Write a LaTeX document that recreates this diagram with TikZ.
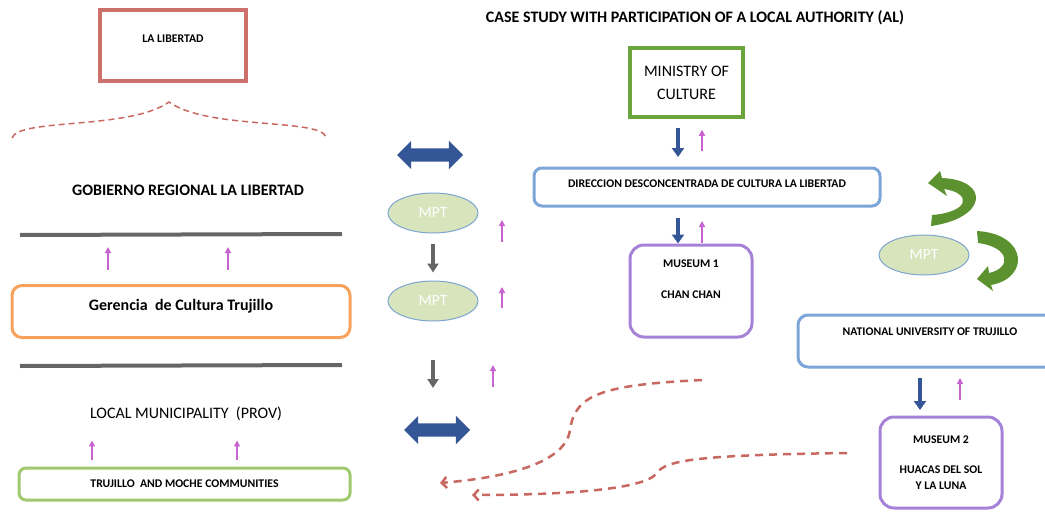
\documentclass[tikz,border=0pt]{standalone}
\usepackage{fontspec}
\setmainfont{Carlito}
\usetikzlibrary{arrows.meta,shapes.geometric,shapes.arrows,positioning}
\definecolor{libred}{RGB}{205,112,108}
\definecolor{dashred}{RGB}{200,104,96}
\definecolor{bargray}{RGB}{102,102,102}
\definecolor{upmag}{RGB}{200,100,210}
\definecolor{gerorange}{RGB}{247,162,92}
\definecolor{comgreen}{RGB}{160,200,110}
\definecolor{dirblue}{RGB}{125,165,215}
\definecolor{muspurple}{RGB}{165,130,215}
\definecolor{mingreen}{RGB}{105,165,60}
\definecolor{darkblue}{RGB}{52,86,150}
\definecolor{mptfill}{RGB}{215,228,188}
\definecolor{mptline}{RGB}{125,165,210}
\definecolor{turngreen}{RGB}{92,145,48}
\begin{document}
\begin{tikzpicture}[x=1pt, y=-1pt,
  smalltxt/.style={font=\fontsize{11.75}{14}\selectfont\bfseries},
  bigtxt/.style={font=\fontsize{16}{19}\selectfont\bfseries},
  plaintxt/.style={font=\fontsize{16}{19}\selectfont},
  mpt/.style={ellipse, draw=mptline, fill=mptfill, line width=1pt, minimum width=90pt, minimum height=40pt, text=white, font=\fontsize{15.5}{18}\selectfont},
  twoway/.style={double arrow, fill=darkblue, minimum height=66pt, inner sep=6.5pt, double arrow head extend=7.5pt},
  downarrow/.style={-{Triangle[width=12pt,length=9pt]}, line width=4.5pt, darkblue},
  graydown/.style={-{Triangle[width=11pt,length=9pt]}, line width=4pt, bargray},
  uparrow/.style={-{Triangle[width=6pt,length=6pt]}, line width=1.3pt, upmag},
  barline/.style={line width=4pt, bargray},
  backflow/.style={dashred, line width=2.5pt, dash pattern=on 8pt off 6pt, -{Straight Barb[length=5pt,width=11pt]}}]
\useasboundingbox (0,0) rectangle (1045,519);

% left column
\node[smalltxt, draw=libred, line width=3.5pt, minimum width=146pt, minimum height=71pt, text height=8pt, text depth=13.5pt] (lib) at (173,45.5) {LA LIBERTAD};
\draw[dashred, line width=1.5pt, dash pattern=on 6pt off 4pt] (12,138) .. controls (18,118) and (130,130) .. (169,102) .. controls (208,130) and (320,118) .. (326,137);
\node[bigtxt] (gob) at (188,190) {GOBIERNO REGIONAL LA LIBERTAD};
\coordinate (bar1w) at (20,235);
\coordinate (bar1e) at (342,234);
\draw[barline] (bar1w) -- (bar1e);
\node[bigtxt, draw=gerorange, line width=3pt, rounded corners=10pt, minimum width=338pt, minimum height=52pt, text height=10.5pt, text depth=13.5pt] (ger) at (181,311.5) {Gerencia\ \ de Cultura Trujillo};
\draw[uparrow, shorten >=13pt] ([xshift=-73pt, yshift=14pt]ger.north) -- ([xshift=-73pt]ger.north |- bar1e);
\draw[uparrow, shorten >=13pt] ([xshift=47pt, yshift=14pt]ger.north) -- ([xshift=47pt]ger.north |- bar1e);
\coordinate (bar2w) at (20,366);
\coordinate (bar2e) at (342,365);
\draw[barline] (bar2w) -- (bar2e);
\node[plaintxt] (loc) at (186,414) {LOCAL MUNICIPALITY\ \ (PROV)};
\node[smalltxt, draw=comgreen, line width=3pt, rounded corners=7pt, minimum width=331pt, minimum height=32pt] (com) at (184.5,484) {TRUJILLO\ \ AND MOCHE COMMUNITIES};
\draw[uparrow, shorten <=6.5pt, shorten >=16pt] ([xshift=-92.5pt]com.north) -- ([xshift=-92.5pt]com.north |- loc.south);
\draw[uparrow, shorten <=6.5pt, shorten >=16pt] ([xshift=52.5pt]com.north) -- ([xshift=52.5pt]com.north |- loc.south);

% middle column
\node[twoway] (tw1) at (430,155) {};
\node[mpt] (mpt1) at (433,213) {MPT};
\node[mpt] (mpt2) at (433,301) {MPT};
\node[twoway] (tw2) at (437,430) {};
\draw[graydown, shorten <=10pt, shorten >=8pt] (mpt1.south) -- (mpt2.north);
\draw[graydown, shorten <=38.5pt, shorten >=42pt] (mpt2.south) -- (mpt2.south |- tw2.center);
\draw[uparrow] ([xshift=69pt, yshift=-29pt]mpt1.center) -- ++(0,-22);
\draw[uparrow] ([xshift=69pt, yshift=-7pt]mpt2.center) -- ++(0,-21);
\draw[uparrow] ([xshift=56pt, yshift=43pt]tw2.center) -- ++(0,-22);

% right part
\node[bigtxt] (title) at (695,18) {CASE STUDY WITH PARTICIPATION OF A LOCAL AUTHORITY (AL)};
\node[plaintxt, draw=mingreen, line width=3.5pt, minimum width=113pt, minimum height=69pt, align=center] (min) at (686.5,82.5) {MINISTRY OF\\[4pt]CULTURE};
\node[smalltxt, draw=dirblue, line width=3pt, rounded corners=8pt, minimum width=346pt, minimum height=38pt, text height=8pt, text depth=6.5pt] (dir) at (707,187) {DIRECCION DESCONCENTRADA DE CULTURA LA LIBERTAD};
\draw[downarrow, shorten <=9pt, shorten >=9.5pt] ([xshift=-8.5pt]min.south) -- ([xshift=-8.5pt]min.south |- dir.north);
\draw[uparrow, shorten <=16pt, shorten >=11pt] ([xshift=-5pt]dir.north) -- ([xshift=-5pt]dir.north |- min.south);
\node[smalltxt, draw=muspurple, line width=3pt, rounded corners=14pt, minimum width=122pt, minimum height=92pt, align=center] (mus1) at (691,291) {MUSEUM 1\\[17pt]CHAN CHAN\\[6pt]\strut};
\draw[downarrow, shorten <=10.5pt] ([xshift=-13pt]mus1.north |- dir.south) -- ([xshift=-13pt]mus1.north);
\draw[uparrow, shorten <=0.5pt, shorten >=13.5pt] ([xshift=11pt]mus1.north) -- ([xshift=11pt]mus1.north |- dir.south);

\node[mpt] (mpt3) at (924,255) {MPT};
\fill[turngreen] (928,183) -- (940,171) -- (942,178) .. controls (990,180) and (988,218) .. (931,226) -- (932,215) .. controls (970,212) and (972,193) .. (944,189) -- (947,196) -- cycle;
\fill[turngreen] (977,279) -- (988,266) -- (989,273) .. controls (1012,268) and (1010,247) .. (978,243) -- (977,231) .. controls (1028,234) and (1030,278) .. (991,285) -- (993,291) -- cycle;

\node[smalltxt, draw=dirblue, line width=3pt, rounded corners=10pt, minimum width=264pt, minimum height=52pt, text height=8pt, text depth=18.5pt] (uni) at (930,341) {NATIONAL UNIVERSITY OF TRUJILLO};
\node[smalltxt, draw=muspurple, line width=3pt, rounded corners=14pt, minimum width=122pt, minimum height=91pt, align=center] (mus2) at (941,462.5) {MUSEUM 2\\[16pt]HUACAS DEL SOL\\[2pt]Y LA LUNA};
\draw[downarrow, shorten <=9.5pt, shorten >=5.5pt] ([xshift=-21pt]mus2.north |- uni.south) -- ([xshift=-21pt]mus2.north);
\draw[uparrow, shorten <=15.5pt, shorten >=9.5pt] ([xshift=19pt]mus2.north) -- ([xshift=19pt]mus2.north |- uni.south);

% dashed returns
\coordinate (d1s) at (702,380);
\coordinate (d1e) at (440,483);
\draw[backflow] (d1s) .. controls (600,385) and (575,395) .. (570,430) .. controls (565,465) and (500,478) .. (d1e);
\coordinate (d2s) at (847,453);
\coordinate (d2e) at (472,495);
\draw[backflow] (d2s) .. controls (700,455) and (665,460) .. (657,473) .. controls (645,490) and (560,495) .. (d2e);
\end{tikzpicture}
\end{document}
